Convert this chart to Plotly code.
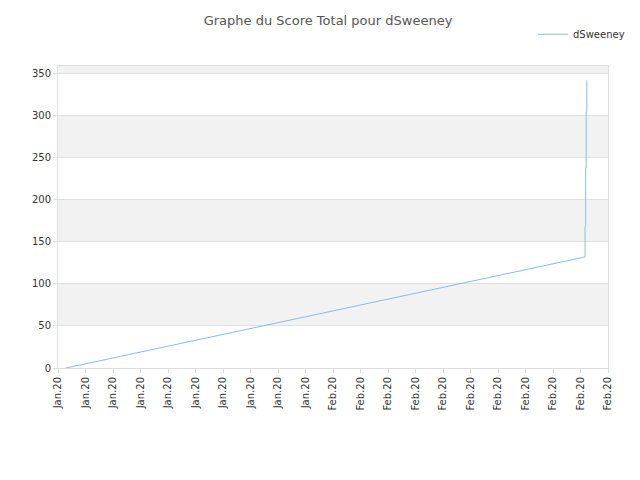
import plotly.graph_objects as go

dates = ["2020-01-12 14:00", "2020-02-19 08:00", "2020-02-19 08:00",
         "2020-02-19 09:00", "2020-02-19 09:00", "2020-02-19 10:00",
         "2020-02-19 10:00", "2020-02-19 11:00", "2020-02-19 11:00"]
scores = [0, 132, 168, 168, 238, 238, 305, 305, 342]

fig = go.Figure()
fig.add_trace(go.Scatter(x=dates, y=scores, mode="lines", name="dSweeney",
                         line=dict(color="#88bbee", width=1)))

# alternating background bands
for y0, y1 in [(50, 100), (150, 200), (250, 300), (350, 400)]:
    fig.add_shape(type="rect", xref="paper", x0=0, x1=1, yref="y", y0=y0, y1=y1,
                  fillcolor="#f2f2f2", line_width=0, layer="below")

fig.update_layout(
    width=640, height=480,
    title=dict(text="Graphe du Score Total pour dSweeney", x=0.5, y=0.975,
               yanchor="middle", font=dict(size=13, color="#555555")),
    font=dict(family="DejaVu Sans", size=10, color="#333333"),
    plot_bgcolor="white", paper_bgcolor="white",
    margin=dict(l=50, r=40, t=40, b=120),
    showlegend=True,
    legend=dict(x=1.04, y=1.105, xanchor="right", yanchor="middle",
                font=dict(size=10), bgcolor="rgba(0,0,0,0)"),
    xaxis=dict(type="date", range=["2020-01-12", "2020-02-21"], automargin=False,
               tick0="2020-01-12", dtick=2 * 86400000, tickformat="%b.%y",
               tickangle=-90, showgrid=False, showline=True, linecolor="#dddddd",
               mirror=True, ticks="outside", tickcolor="#dddddd", ticklen=4),
    yaxis=dict(range=[0, 359], dtick=50, showgrid=True, gridcolor="#e0e0e0",
               automargin=False,
               showline=True, linecolor="#dddddd", mirror=True, zeroline=False,
               ticks="outside", tickcolor="#dddddd", ticklen=4),
)

fig.write_html("out.html")
